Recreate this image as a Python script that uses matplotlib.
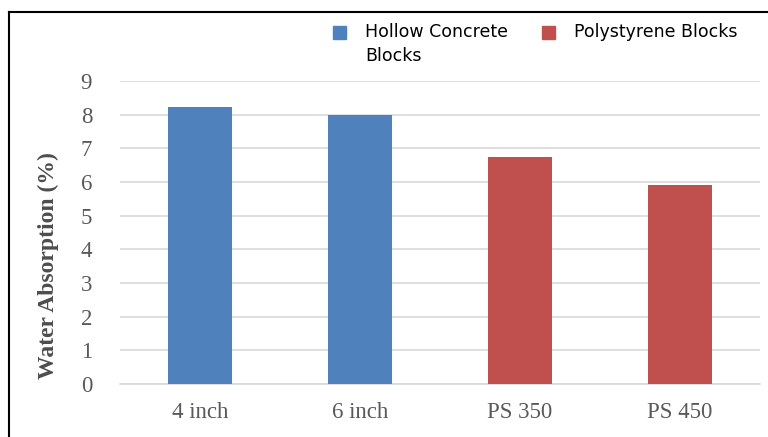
import numpy as np
import matplotlib.pyplot as plt
from matplotlib.lines import Line2D
from matplotlib.patches import Rectangle

# Data
categories = ['4 inch', '6 inch', 'PS 350', 'PS 450']
absorption = [8.23, 8.0, 6.75, 5.92]
groups = ['Hollow Concrete\nBlocks', 'Polystyrene Blocks']
group_of_bar = [0, 0, 1, 1]
group_colors = ['#4F81BD', '#C0504D']
yticks = np.arange(0, 10, 1)

W, H = 768, 437
fig = plt.figure(figsize=(W / 100, H / 100), dpi=100)
ax = fig.add_axes([120 / W, 1 - 384 / H, 640 / W, (384 - 81) / H])

x = np.arange(len(categories))
colors = [group_colors[g] for g in group_of_bar]
ax.bar(x, absorption, width=0.4, color=colors, zorder=3)

ax.set_xlim(-0.5, len(categories) - 0.5)
ax.set_ylim(0, 9)
ax.set_yticks(yticks)
ax.set_xticks(x)
ax.set_xticklabels(categories)
ax.grid(axis='y', color='#D9D9D9', linewidth=1.2, zorder=0)
for s in ['top', 'right', 'left']:
    ax.spines[s].set_visible(False)
ax.spines['bottom'].set_color('#D9D9D9')
ax.spines['bottom'].set_linewidth(1.2)
ax.tick_params(length=0, labelsize=16.5, labelcolor='#595959', pad=13)
for lbl in ax.get_xticklabels() + ax.get_yticklabels():
    lbl.set_family('Liberation Serif')
ax.tick_params(axis='y', pad=20)

fig.text(48 / W, 1 - 266 / H, 'Water Absorption (%)', rotation=90,
         ha='center', va='center', fontsize=17, fontweight='bold',
         family='Liberation Serif', color='#4D4D4D')

# legend drawn by hand so the square sits on the first label line
leg_x = [333, 542]
for gx, label, c in zip(leg_x, groups, group_colors):
    fig.patches.append(Rectangle((gx / W, 1 - 39 / H), 13 / W, 13 / H,
                                 transform=fig.transFigure, color=c))
    fig.text((gx + 32) / W, 1 - 23 / H, label, ha='left', va='top',
             fontsize=12.5, linespacing=1.45, color='#000000',
             family='DejaVu Sans')

# outer frame (top and left edges)
fig.add_artist(Line2D([9 / W, 1], [1 - 12 / H, 1 - 12 / H], color='black', lw=1.5))
fig.add_artist(Line2D([9 / W, 9 / W], [0, 1 - 12 / H], color='black', lw=1.5))

fig.savefig('out.png', dpi=100)
